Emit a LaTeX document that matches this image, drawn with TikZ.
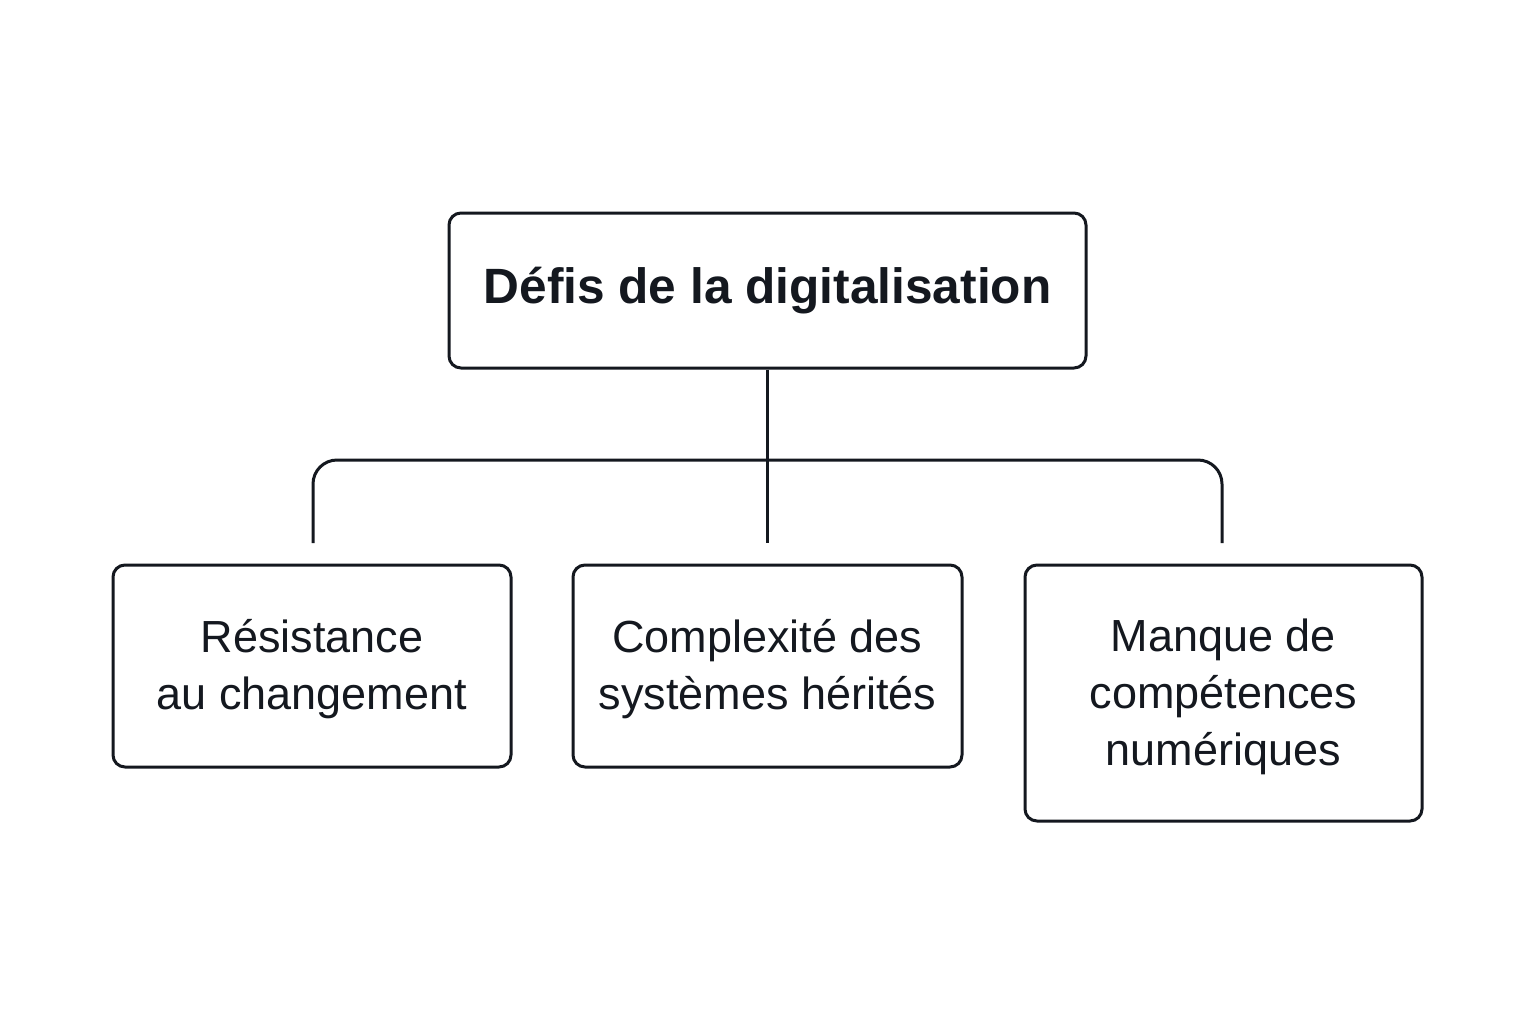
\documentclass[tikz,border=0pt]{standalone}
\usepackage{fontspec}
\setmainfont{Liberation Sans}
\definecolor{ink}{HTML}{14181F}
\begin{document}
\begin{tikzpicture}[x=0.5pt,y=-0.5pt,
  box/.style={draw=ink,line width=1.5pt,rounded corners=6pt,inner sep=0pt,align=center,text=ink},
  conn/.style={draw=ink,line width=1.5pt},
  lbl/.style={font=\fontsize{22.5}{28.5}\selectfont}]
\useasboundingbox[fill=white] (0,0) rectangle (1536,1024);
\node[box,minimum width=318.5pt,minimum height=77.5pt,font=\fontsize{24.8}{30}\selectfont\bfseries] (top) at (767.5,290.5) {Défis de la digitalisation};
\node[box,lbl,minimum width=199pt,minimum height=101pt] (l) at (312,666) {\strut Résistance\\au changement};
\node[box,lbl,minimum width=194.5pt,minimum height=101pt] (m) at (767.5,666) {\strut Complexité des\\systèmes hérités};
\node[box,lbl,minimum width=198.5pt,minimum height=128pt] (r) at (1223.5,693) {\strut Manque de\\compétences\\numériques};
\coordinate (cl) at (313,543);
\coordinate (cm) at (767.5,543);
\coordinate (cr) at (1222,543);
\coordinate (hl) at (313,460);
\coordinate (hr) at (1222,460);
\draw[conn] (top.south) -- (cm);
\draw[conn,rounded corners=12pt] (cl) -- (hl) -- (hr) -- (cr);
\end{tikzpicture}
\end{document}
